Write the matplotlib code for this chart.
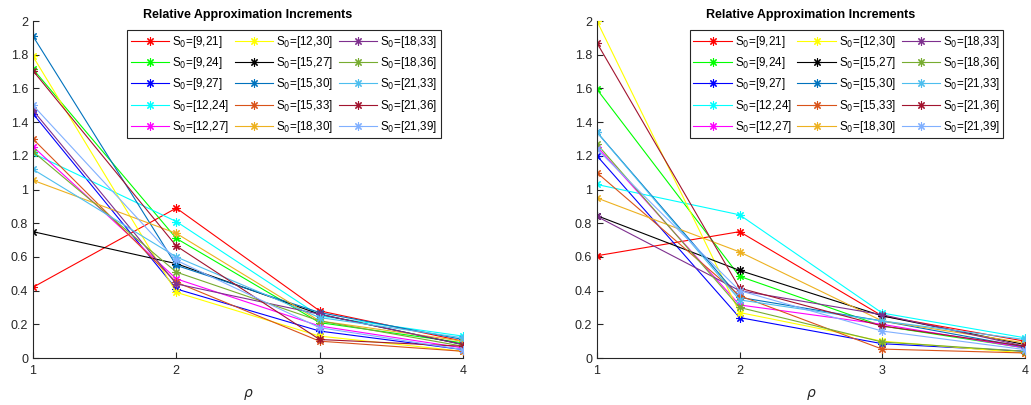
#!/usr/bin/env python3
import matplotlib
matplotlib.use('Agg')
import matplotlib.pyplot as plt
from matplotlib.ticker import FuncFormatter

plt.rcParams['font.family'] = ['Liberation Sans', 'DejaVu Sans']

# data
rho = [1, 2, 3, 4]
labels = ['[9,21]', '[9,24]', '[9,27]', '[12,24]', '[12,27]',
          '[12,30]', '[15,27]', '[15,30]', '[15,33]', '[18,30]',
          '[18,33]', '[18,36]', '[21,33]', '[21,36]', '[21,39]']
colors = ['#FF0000', '#00FF00', '#0000FF', '#00FFFF', '#FF00FF',
          '#FFFF00', '#000000', '#0072BD', '#D95319', '#EDB120',
          '#7E2F8E', '#77AC30', '#4DBEEE', '#A2142F', '#80B0FF']

left_vals = [
    [0.42, 0.89, 0.28, 0.10],
    [1.715, 0.71, 0.21, 0.09],
    [1.45, 0.41, 0.16, 0.05],
    [1.215, 0.81, 0.25, 0.13],
    [1.255, 0.47, 0.19, 0.06],
    [1.79, 0.39, 0.13, 0.04],
    [0.75, 0.56, 0.26, 0.08],
    [1.91, 0.55, 0.27, 0.11],
    [1.30, 0.45, 0.10, 0.04],
    [1.055, 0.74, 0.22, 0.10],
    [1.47, 0.44, 0.26, 0.08],
    [1.225, 0.51, 0.22, 0.07],
    [1.12, 0.60, 0.24, 0.12],
    [1.705, 0.665, 0.11, 0.07],
    [1.50, 0.58, 0.18, 0.05],
]

right_vals = [
    [0.607, 0.75, 0.25, 0.10],
    [1.595, 0.485, 0.19, 0.06],
    [1.20, 0.24, 0.085, 0.04],
    [1.03, 0.85, 0.267, 0.12],
    [1.255, 0.315, 0.20, 0.06],
    [2.00, 0.27, 0.10, 0.03],
    [0.845, 0.52, 0.25, 0.08],
    [1.34, 0.36, 0.22, 0.065],
    [1.10, 0.37, 0.053, 0.03],
    [0.95, 0.63, 0.22, 0.09],
    [0.84, 0.40, 0.257, 0.07],
    [1.27, 0.30, 0.095, 0.04],
    [1.34, 0.345, 0.22, 0.11],
    [1.87, 0.415, 0.19, 0.07],
    [1.24, 0.40, 0.16, 0.05],
]

AX_COL = '#262626'


def draw(ax, vals, legend_x):
    for lab, col, v in zip(labels, colors, vals):
        ax.plot(rho, v, color=col, lw=0.8, marker=(8, 2, 0), ms=6, mew=0.8,
                label=r'S$_0$=' + lab)
    ax.set_xlim(1, 4)
    ax.set_ylim(0, 2)
    ax.set_xticks(rho)
    ax.set_yticks([i * 0.2 for i in range(11)])
    ax.yaxis.set_major_formatter(FuncFormatter(lambda y, p: '%g' % round(y, 1)))
    for s in ['top', 'right']:
        ax.spines[s].set_visible(False)
    for s in ['left', 'bottom']:
        ax.spines[s].set_color(AX_COL)
        ax.spines[s].set_linewidth(0.8)
    ax.tick_params(direction='in', length=4, width=0.8, color=AX_COL,
                   labelcolor=AX_COL, labelsize=9)
    ax.tick_params(axis='x', pad=5)
    ax.set_title('Relative Approximation Increments', fontsize=9,
                 fontweight='bold', pad=2)
    ax.set_xlabel(r'$\rho$', fontsize=10, color=AX_COL, labelpad=7)
    leg = ax.legend(ncol=3, loc='upper left', bbox_to_anchor=(legend_x, 0.972),
                    fontsize=8.4, handlelength=3.3, handletextpad=0.25,
                    columnspacing=0.5, labelspacing=0.45, borderpad=0.3,
                    borderaxespad=0, frameon=True, fancybox=False, framealpha=1)
    leg.get_frame().set_edgecolor(AX_COL)
    leg.get_frame().set_linewidth(0.8)


fig = plt.figure(figsize=(10.31, 4.05), dpi=100)
ax1 = fig.add_axes([0.032, 0.116, 0.417, 0.832])
ax2 = fig.add_axes([0.579, 0.116, 0.415, 0.832])
draw(ax1, left_vals, 0.219)
draw(ax2, right_vals, 0.217)

fig.savefig('out.png', dpi=100)
